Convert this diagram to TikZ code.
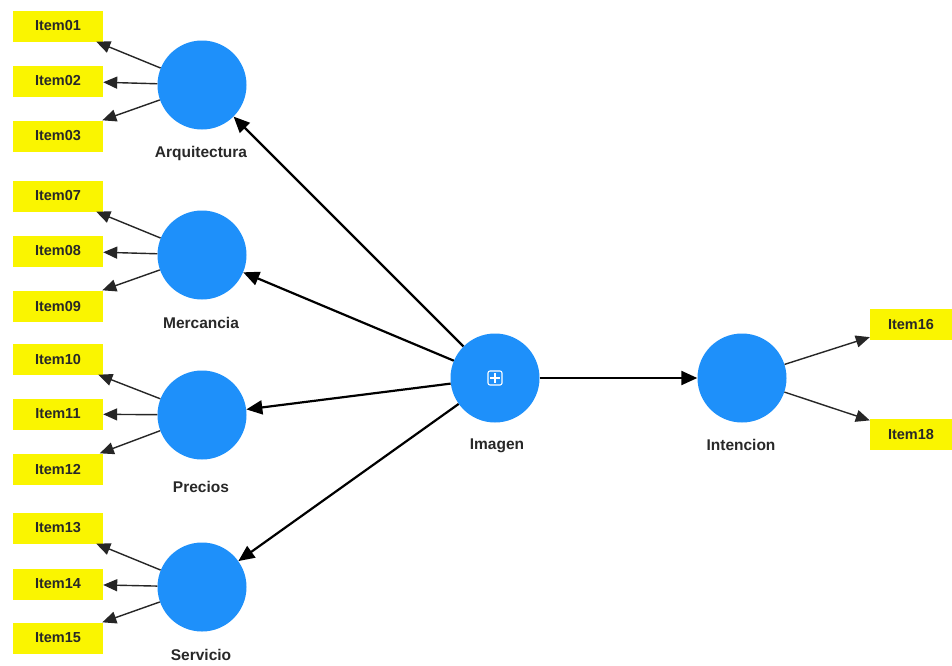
\documentclass[tikz,border=0pt]{standalone}
\usepackage{fontspec}
\setmainfont{Liberation Sans}
\usetikzlibrary{arrows.meta}
\definecolor{lvblue}{RGB}{30,144,250}
\definecolor{itemyel}{RGB}{250,245,0}
\definecolor{txt}{RGB}{40,40,40}
\tikzset{
  lv/.style={circle, fill=lvblue, draw=none, minimum size=89pt, inner sep=0pt},
  itembox/.style={rectangle, fill=itemyel, draw=none, minimum width=90pt, minimum height=31pt, inner sep=0pt, font=\fontsize{14.5pt}{15pt}\selectfont\bfseries, text=txt},
  lab/.style={font=\fontsize{15.5pt}{16pt}\selectfont\bfseries, text=txt, inner sep=0pt},
  measarrow/.style={-{Triangle[length=14pt,width=12pt]}, line width=1.4pt, draw=black!85},
  structarrow/.style={-{Triangle[length=16pt,width=14pt]}, line width=2.2pt, draw=black},
}
\begin{document}
\begin{tikzpicture}[x=1pt,y=-1pt]
\useasboundingbox (0,0) rectangle (952,665);
\fill[white] (0,0) rectangle (952,665);
% items left
\node[itembox] (i01) at (58,26) {Item01};
\node[itembox] (i02) at (58,81) {Item02};
\node[itembox] (i03) at (58,136) {Item03};
\node[itembox] (i07) at (58,196) {Item07};
\node[itembox] (i08) at (58,251) {Item08};
\node[itembox] (i09) at (58,306) {Item09};
\node[itembox] (i10) at (58,359) {Item10};
\node[itembox] (i11) at (58,414) {Item11};
\node[itembox] (i12) at (58,469) {Item12};
\node[itembox] (i13) at (58,528) {Item13};
\node[itembox] (i14) at (58,584) {Item14};
\node[itembox] (i15) at (58,638) {Item15};
% items right
\node[itembox, minimum width=82pt] (i16) at (911,324) {Item16};
\node[itembox, minimum width=82pt] (i18) at (911,434) {Item18};
% latent variables
\node[lv] (arq) at (202,85) {};
\node[lv] (mer) at (202,255) {};
\node[lv] (pre) at (202,415) {};
\node[lv] (ser) at (202,587) {};
\node[lv] (ima) at (495,378) {};
\node[lv] (int) at (742,378) {};
% icon
\draw[white, line width=1.1pt, rounded corners=2pt] (488,371) rectangle (502,385);
\draw[white, line width=1.1pt] (495,373) -- (495,383) (490,378) -- (500,378);
% labels
\node[lab] (larq) at (201,153) {Arquitectura};
\node[lab] (lmer) at (201,323) {Mercancia};
\node[lab] (lpre) at (201,487) {Precios};
\node[lab] (lser) at (201,655) {Servicio};
\node[lab] (lima) at (497,446) {Imagen};
\node[lab] (lint) at (741,445) {Intencion};
% outer arrows
\foreach \c/\a/\b/\d in {arq/i01/i02/i03, mer/i07/i08/i09, pre/i10/i11/i12, ser/i13/i14/i15}{
  \draw[measarrow] (\c) -- (\a);
  \draw[measarrow] (\c) -- (\b);
  \draw[measarrow] (\c) -- (\d);
}
\draw[measarrow] (int) -- (i16);
\draw[measarrow] (int) -- (i18);
% structural
\draw[structarrow] (ima) -- (arq);
\draw[structarrow] (ima) -- (mer);
\draw[structarrow] (ima) -- (pre);
\draw[structarrow] (ima) -- (ser);
\draw[structarrow] (ima) -- (int);
\end{tikzpicture}
\end{document}
